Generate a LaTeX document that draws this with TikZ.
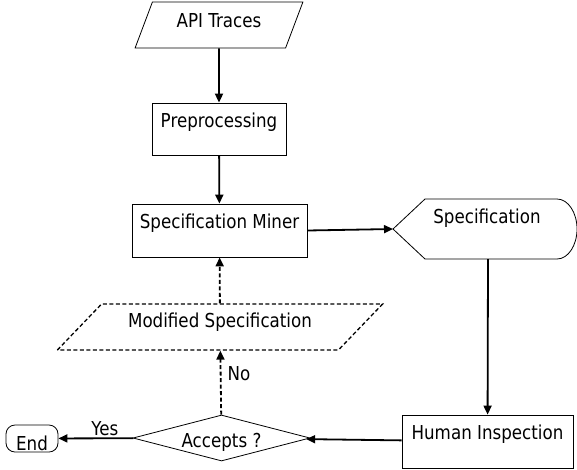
\documentclass[tikz,border=0pt]{standalone}
\usepackage{fontspec}
\setmainfont{DejaVu Sans}[FakeStretch=0.87]
\usepackage{tikz}
\usetikzlibrary{positioning}
\usetikzlibrary{shapes.geometric}
\usetikzlibrary{arrows.meta}

\tikzset{
    proc/.style={draw, line width=0.8pt, inner sep=0pt, text height=13pt, text depth=17pt},
    io/.style={trapezium, trapezium stretches=true, draw, line width=0.8pt, inner sep=0pt},
    flow/.style={line width=1.8pt, -{Triangle[length=9pt,width=8pt]}},
    back/.style={flow, dash pattern=on 4pt off 2.5pt},
    lbl/.style={inner sep=0pt, text height=13pt, text depth=0pt},
}

\begin{document}
\begin{tikzpicture}[x=1pt, y=-1pt, font=\fontsize{19.2}{23}\selectfont]
    \useasboundingbox (0,0) rectangle (577,469);
    \node[io, trapezium left angle=63.4, trapezium right angle=116.6,
          minimum width=168pt, minimum height=46pt, text height=13pt, text depth=9pt] (api) at (219,25) {API Traces};
    \node[proc, minimum width=134pt, minimum height=52pt] (pre) at (219,129) {Preprocessing};
    \node[proc, minimum width=175pt, minimum height=53pt] (miner) at (219.5,230.5) {Specification Miner};
    % display shape for the mined specification
    \draw[line width=0.8pt] (393,229) -- (425,199) -- (557,199)
        arc[start angle=90, end angle=-90, x radius=20pt, y radius=30pt] -- (425,259) -- cycle;
    \node[inner sep=0pt, text height=13pt, text depth=24pt] (spec) at (487,229) {Specification};
    \coordinate (specin) at (393,229);
    \coordinate (specout) at (488,259);
    \node[proc, minimum width=171pt, minimum height=53pt] (human) at (487.5,441.5) {Human Inspection};
    \node[diamond, draw, line width=0.8pt, aspect=3.85, inner sep=0pt,
          minimum width=177pt, minimum height=46pt, text height=18pt, text depth=0pt] (acc) at (221.5,438) {Accepts ?};
    \node[io, dashed, dash pattern=on 4pt off 2.5pt, line width=1.3pt,
          trapezium left angle=36.1, trapezium right angle=143.9,
          minimum width=326pt, minimum height=46pt, text height=13pt, text depth=12pt] (mod) at (220,327) {Modified Specification};
    \node[draw, line width=0.8pt, rounded corners=9pt, inner sep=0pt, minimum width=52pt, minimum height=27pt,
          text height=23pt, text depth=0pt] (end) at (32,438.5) {End};
    \draw[flow] (api) -- (pre);
    \draw[flow] (pre) -- (miner);
    \draw[flow] (miner.east) -- (specin);
    \draw[flow] (specout) -- (human);
    \draw[flow] (human) -- (acc);
    \draw[flow] (acc) -- node[lbl, pos=0.38, anchor=south, yshift=2pt] {Yes} (end);
    \draw[back] (acc) -- node[lbl, pos=0.63, anchor=west, xshift=6pt] {No} (mod);
    \draw[back] (mod) -- (miner);
\end{tikzpicture}
\end{document}
